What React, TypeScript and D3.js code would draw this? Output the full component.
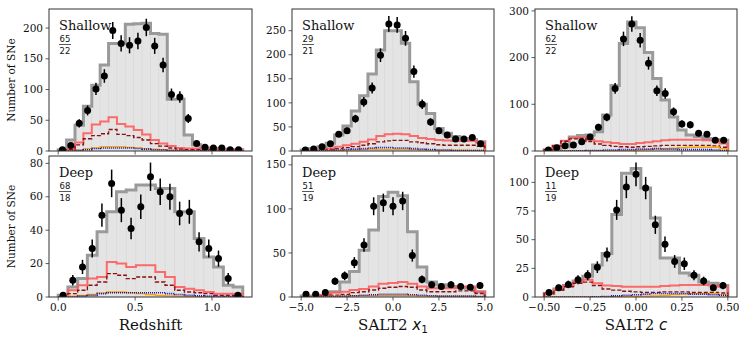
import React from "react";
import * as d3 from "d3";

// ---------- data ----------
// Redshift, Shallow (22 bins, 0 - 1.2)
const zShData = [2, 9, 45, 66, 101, 122, 196, 175, 172, 179, 201, 171, 140, 92, 88, 53, 12, 6, 5, 5, 2, 2];
const zShModel = [2, 18, 42, 73, 107, 140, 175, 175, 206, 207, 208, 191, 190, 84, 84, 26, 10, 5, 4, 3, 2, 2];
const zShRed = [0, 3, 14, 29, 43, 48, 55, 44, 40, 34, 27, 18, 12, 8, 5, 4, 4, 3, 3, 2, 2, 2];
const zShDark = [0, 2, 10, 20, 25, 28, 35, 27, 25, 22, 18, 12, 8, 5, 3, 2, 2, 2, 1, 1, 1, 1];
const zShOrange = [0, 0, 1, 4, 5, 7, 7, 7, 6, 5, 4, 3, 2, 1, 1, 0.5, 0.3, 0.2, 0.1, 0.1, 0, 0];
const zShBlue = [0, 0, 1, 2, 4, 5, 5, 5, 5, 4, 3, 2, 2, 1, 1, 0.5, 0.3, 0.2, 0.1, 0, 0, 0];

// SALT2 x1, Shallow (22 bins, -5 - 5)
const x1ShData = [2, 4, 9, 15, 35, 42, 67, 102, 131, 199, 264, 262, 234, 165, 97, 60, 42, 33, 25, 25, 28, 15];
const x1ShModel = [2, 5, 9, 16, 33, 52, 83, 115, 160, 210, 250, 250, 224, 144, 97, 78, 47, 37, 30, 26, 24, 19];
const x1ShRed = [0.5, 1, 2, 5, 9, 12, 15, 19, 24, 31, 35, 36, 35, 31, 27, 25, 23, 22, 21, 21, 21, 17];
const x1ShDark = [0, 0.5, 1, 3, 5, 7, 9, 12, 15, 19, 21, 22, 22, 19, 17, 15, 13, 12, 12, 12, 12, 10];
const x1ShOrange = [0, 0, 0.5, 1, 1, 2, 2, 3, 3, 3, 3, 3, 3, 3, 2, 2, 2, 2, 2, 2, 1, 1];
const x1ShBlue = [0, 0, 0.5, 1, 2, 3, 4, 5, 6, 7, 7, 6, 6, 5, 4, 3, 2, 2, 1, 1, 1, 1];

// SALT2 c, Shallow (22 bins, -0.5 - 0.5)
const cShData = [2, 7, 11, 13, 20, 30, 51, 72, 134, 240, 272, 237, 188, 129, 123, 84, 58, 56, 38, 36, 23, 23];
const cShModel = [2, 5, 9, 30, 33, 34, 41, 77, 140, 230, 276, 264, 211, 155, 109, 73, 45, 34, 31, 27, 24, 23];
const cShRed = [3, 12, 22, 28, 29, 24, 21, 19, 17, 15, 15, 17, 19, 21, 23, 24, 24, 24, 24, 23, 23, 16];
const cShDark = [3, 11, 21, 26, 27, 20, 15, 12, 10, 9, 8, 9, 10, 11, 12, 12, 12, 12, 12, 12, 11, 8];
const cShOrange = [0, 0, 0, 0, 0, 0.5, 0.5, 1, 1, 1, 1.5, 2, 3, 4, 5, 6, 7, 8, 8, 8, 8, 5];
const cShBlue = [0, 0, 0, 0.3, 0.5, 1, 1, 2, 2, 3, 3, 4, 4, 5, 4, 4, 3, 3, 3, 3, 2, 1];

// Redshift, Deep (19 bins, 0 - 1.2)
const zDpData = [1, 10, 18, 29, 49, 68, 52, 41, 54, 72, 63, 60, 50, 51, 33, 29, 23, 11, 1];
const zDpModel = [1, 6, 11, 25, 39, 51, 63, 64, 67, 67, 65, 65, 51, 51, 35, 24, 18, 7, 6];
const zDpRed = [0, 4, 7, 11, 12, 21, 20, 18, 19, 19, 15, 12, 6, 5, 4, 3, 2, 2, 2];
const zDpDark = [0, 2, 4, 7, 9, 14, 13, 11, 12, 12, 9, 7, 4, 3, 2.5, 2, 1, 1, 1];
const zDpOrange = [0, 0.5, 1, 1.5, 2.5, 3, 3, 2.5, 2, 1.5, 1, 0.7, 0.5, 0.3, 0.2, 0.1, 0, 0, 0];
const zDpBlue = [0, 0, 0.5, 1, 2, 2.5, 2.5, 2.5, 2.5, 2.5, 2.5, 2, 1.5, 1, 0.7, 0.5, 0.3, 0.2, 0.1];

// SALT2 x1, Deep (19 bins, -5 - 5)
const x1DpData = [3, 3, 5, 18, 24, 39, 59, 103, 107, 103, 109, 47, 20, 14, 12, 14, 12, 11, 13];
const x1DpModel = [1, 1, 2, 6, 17, 29, 53, 76, 114, 119, 115, 74, 34, 17, 14, 12, 11, 10, 6];
const x1DpRed = [0, 1, 2, 5, 6, 8, 9, 12, 15, 16, 17, 15, 12, 10, 10, 10, 11, 12, 6];
const x1DpDark = [0, 0.5, 1, 2, 3, 5, 6, 8, 10, 11, 12, 11, 8, 6, 6, 6, 7, 7, 4];
const x1DpOrange = [0, 0, 0.5, 1, 1, 1.5, 1.5, 1.5, 1.5, 1.5, 1.5, 1.5, 1, 1, 1, 1, 1, 1, 0.5];
const x1DpBlue = [0, 0, 0.5, 0.5, 1, 1.5, 2, 2.5, 3, 3, 3, 2.5, 2, 1.5, 1, 1, 1, 1, 0.5];

// SALT2 c, Deep (19 bins, -0.5 - 0.5)
const cDpData = [4, 8, 11, 15, 19, 26, 37, 76, 96, 107, 95, 63, 46, 31, 29, 19, 14, 8, 10];
const cDpModel = [3, 7, 10, 14, 18, 28, 38, 72, 108, 112, 95, 69, 34, 34, 21, 19, 13, 12, 10];
const cDpRed = [3, 6, 10, 13, 15, 12, 10, 9.5, 9, 9, 9, 9, 9.5, 10, 10.5, 10.5, 10.5, 10, 9];
const cDpDark = [3, 6, 9, 12, 13, 10, 7, 6, 5, 4.5, 4, 4, 4.5, 4.5, 4.5, 4, 4, 4, 3.5];
const cDpOrange = [0, 0, 0, 0, 0, 0, 0.2, 0.3, 0.5, 0.5, 0.7, 1, 1.5, 2, 2.5, 3, 3, 3, 2];
const cDpBlue = [0, 0, 0, 0, 0, 0.2, 0.5, 1, 1.5, 2, 2.5, 3, 3, 3, 3, 2.5, 2.5, 2, 1.5];

// ticks
const zTicks = [0.0, 0.5, 1.0];
const x1Ticks = [-5.0, -2.5, 0.0, 2.5, 5.0];
const cTicks = [-0.5, -0.25, 0.0, 0.25, 0.5];
const yTicksZSh = [0, 50, 100, 150, 200];
const yTicksX1Sh = [0, 50, 100, 150, 200, 250];
const yTicksCSh = [0, 100, 200, 300];
const yTicksZDp = [0, 20, 40, 60, 80];
const yTicksX1Dp = [0, 50, 100, 150];
const yTicksCDp = [0, 25, 50, 75, 100];

const rowLabels = ["Shallow", "Deep"];
const fracs = [
  [["65", "22"], ["29", "21"], ["62", "22"]],
  [["68", "18"], ["51", "19"], ["11", "19"]],
];

// ---------- layout ----------
const COLS = [
  [49, 252],
  [292, 494],
  [535, 737],
];
const ROWS = [
  [9, 151],
  [156, 297],
];

const SERIF = "'DejaVu Serif', serif";
const SANS = "'DejaVu Sans', sans-serif";
const FRAME = "#333333";

type Spec = {
  range: [number, number];
  xDomain: [number, number];
  yMax: number;
  xTicks: number[];
  xFmt: (v: number) => string;
  yTicks: number[];
  data: number[];
  model: number[];
  red: number[];
  dark: number[];
  orange: number[];
  blue: number[];
};

const minus = (s: string) => s.replace("-", "\u2212");
const fmt1 = (v: number) => minus(d3.format(".1f")(v));
const fmt2 = (v: number) => minus(d3.format(".2f")(v));

const specs: Spec[][] = [
  [
    { range: [0, 1.2], xDomain: [-0.06, 1.26], yMax: 231, xTicks: zTicks, xFmt: fmt1, yTicks: yTicksZSh, data: zShData, model: zShModel, red: zShRed, dark: zShDark, orange: zShOrange, blue: zShBlue },
    { range: [-5, 5], xDomain: [-5.5, 5.5], yMax: 295, xTicks: x1Ticks, xFmt: fmt1, yTicks: yTicksX1Sh, data: x1ShData, model: x1ShModel, red: x1ShRed, dark: x1ShDark, orange: x1ShOrange, blue: x1ShBlue },
    { range: [-0.5, 0.5], xDomain: [-0.55, 0.55], yMax: 304, xTicks: cTicks, xFmt: fmt2, yTicks: yTicksCSh, data: cShData, model: cShModel, red: cShRed, dark: cShDark, orange: cShOrange, blue: cShBlue },
  ],
  [
    { range: [0, 1.2], xDomain: [-0.06, 1.26], yMax: 84.4, xTicks: zTicks, xFmt: fmt1, yTicks: yTicksZDp, data: zDpData, model: zDpModel, red: zDpRed, dark: zDpDark, orange: zDpOrange, blue: zDpBlue },
    { range: [-5, 5], xDomain: [-5.5, 5.5], yMax: 160, xTicks: x1Ticks, xFmt: fmt1, yTicks: yTicksX1Dp, data: x1DpData, model: x1DpModel, red: x1DpRed, dark: x1DpDark, orange: x1DpOrange, blue: x1DpBlue },
    { range: [-0.5, 0.5], xDomain: [-0.55, 0.55], yMax: 123, xTicks: cTicks, xFmt: fmt2, yTicks: yTicksCDp, data: cDpData, model: cDpModel, red: cDpRed, dark: cDpDark, orange: cDpOrange, blue: cDpBlue },
  ],
];

function stepPath(vals: number[], edges: number[], x: d3.ScaleLinear<number, number>, y: d3.ScaleLinear<number, number>) {
  const pts: [number, number][] = [[x(edges[0]), y(0)]];
  vals.forEach((v, i) => {
    pts.push([x(edges[i]), y(v)]);
    pts.push([x(edges[i + 1]), y(v)]);
  });
  pts.push([x(edges[edges.length - 1]), y(0)]);
  return d3.line()(pts) || "";
}

function Panel({ spec, r, c }: { spec: Spec; r: number; c: number }) {
  const [x0, x1] = COLS[c];
  const [y0, y1] = ROWS[r];
  const x = d3.scaleLinear().domain(spec.xDomain).range([x0, x1]);
  const y = d3.scaleLinear().domain([0, spec.yMax]).range([y1, y0]);
  const n = spec.data.length;
  const edges = d3.range(n + 1).map((i) => spec.range[0] + ((spec.range[1] - spec.range[0]) * i) / n);
  const centers = d3.range(n).map((i) => (edges[i] + edges[i + 1]) / 2);
  const clipId = `clip-${r}-${c}`;
  const [num, den] = fracs[r][c];
  return (
    <g>
      <defs>
        <clipPath id={clipId}>
          <rect x={x0} y={y0} width={x1 - x0} height={y1 - y0} />
        </clipPath>
      </defs>
      <g clipPath={`url(#${clipId})`}>
        {spec.model.map((v, i) => (
          <rect
            key={i}
            x={x(edges[i])}
            y={y(v)}
            width={x(edges[i + 1]) - x(edges[i])}
            height={y(0) - y(v)}
            fill="#e4e4e4"
            stroke="#d6d6d6"
            strokeWidth={0.5}
          />
        ))}
        <path d={stepPath(spec.model, edges, x, y)} fill="none" stroke="#9a9a9a" strokeWidth={3} strokeLinejoin="miter" />
        <path d={stepPath(spec.red, edges, x, y)} fill="none" stroke="#ff5c5c" strokeOpacity={0.9} strokeWidth={2} />
        <path d={stepPath(spec.dark, edges, x, y)} fill="none" stroke="#8b0f0f" strokeWidth={1.4} strokeDasharray="4,2" />
        <path d={stepPath(spec.orange, edges, x, y)} fill="none" stroke="#ffa500" strokeWidth={1.3} />
        <path d={stepPath(spec.blue, edges, x, y)} fill="none" stroke="#1010c0" strokeWidth={1.6} strokeDasharray="1,1" />
        {spec.data.map((v, i) => {
          const e = Math.sqrt(v);
          return (
            <g key={i}>
              <line x1={x(centers[i])} x2={x(centers[i])} y1={y(v - e)} y2={y(v + e)} stroke="#000" strokeWidth={1.5} />
              <circle cx={x(centers[i])} cy={y(v)} r={3.5} fill="#000" />
            </g>
          );
        })}
      </g>
      <rect x={x0} y={y0} width={x1 - x0} height={y1 - y0} fill="none" stroke={FRAME} strokeWidth={1} />
      {spec.yTicks.map((t) => (
        <g key={t}>
          <line x1={x0 - 3.5} x2={x0} y1={y(t)} y2={y(t)} stroke={FRAME} strokeWidth={0.8} />
          <text x={x0 - 6} y={y(t)} dy="0.35em" textAnchor="end" fontFamily={SERIF} fontSize={10.5} fill="#111">
            {t}
          </text>
        </g>
      ))}
      {spec.xTicks.map((t) => (
        <g key={t}>
          <line x1={x(t)} x2={x(t)} y1={y1} y2={y1 + 3.5} stroke={FRAME} strokeWidth={0.8} />
          {r === 1 && (
            <text x={x(t)} y={y1 + 14} textAnchor="middle" fontFamily={SERIF} fontSize={10.5} fill="#111">
              {spec.xFmt(t)}
            </text>
          )}
        </g>
      ))}
      <text x={x0 + 10} y={y0 + 20.5} fontFamily={SERIF} fontSize={13} fill="#111">
        {rowLabels[r]}
      </text>
      <text x={x0 + 16} y={y0 + 33} textAnchor="middle" fontFamily={SANS} fontSize={8.5} fill="#111">
        {num}
      </text>
      <line x1={x0 + 10} x2={x0 + 22} y1={y0 + 35.5} y2={y0 + 35.5} stroke="#111" strokeWidth={0.7} />
      <text x={x0 + 16} y={y0 + 45} textAnchor="middle" fontFamily={SANS} fontSize={8.5} fill="#111">
        {den}
      </text>
      {c === 0 && (
        <text
          transform={`translate(${15},${(y0 + y1) / 2}) rotate(-90)`}
          textAnchor="middle"
          fontFamily={SERIF}
          fontSize={10.5}
          fill="#111"
        >
          Number of SNe
        </text>
      )}
    </g>
  );
}

export default function App() {
  const xLabelY = 330;
  return (
    <svg width={747} height={340} style={{ position: "absolute", left: 0, top: 0, background: "#fff" }}>
      {specs.map((row, r) => row.map((spec, c) => <Panel key={`${r}-${c}`} spec={spec} r={r} c={c} />))}
      <text x={(COLS[0][0] + COLS[0][1]) / 2} y={xLabelY} textAnchor="middle" fontFamily={SERIF} fontSize={15} fill="#111">
        Redshift
      </text>
      <text x={(COLS[1][0] + COLS[1][1]) / 2} y={xLabelY} textAnchor="middle" fontFamily={SERIF} fontSize={15} fill="#111">
        SALT2{" "}
        <tspan fontFamily={SANS} fontStyle="italic">x</tspan>
        <tspan fontFamily={SANS} fontSize={10.5} dy={3}>1</tspan>
      </text>
      <text x={(COLS[2][0] + COLS[2][1]) / 2} y={xLabelY} textAnchor="middle" fontFamily={SERIF} fontSize={15} fill="#111">
        SALT2{" "}
        <tspan fontFamily={SANS} fontStyle="italic">c</tspan>
      </text>
    </svg>
  );
}
